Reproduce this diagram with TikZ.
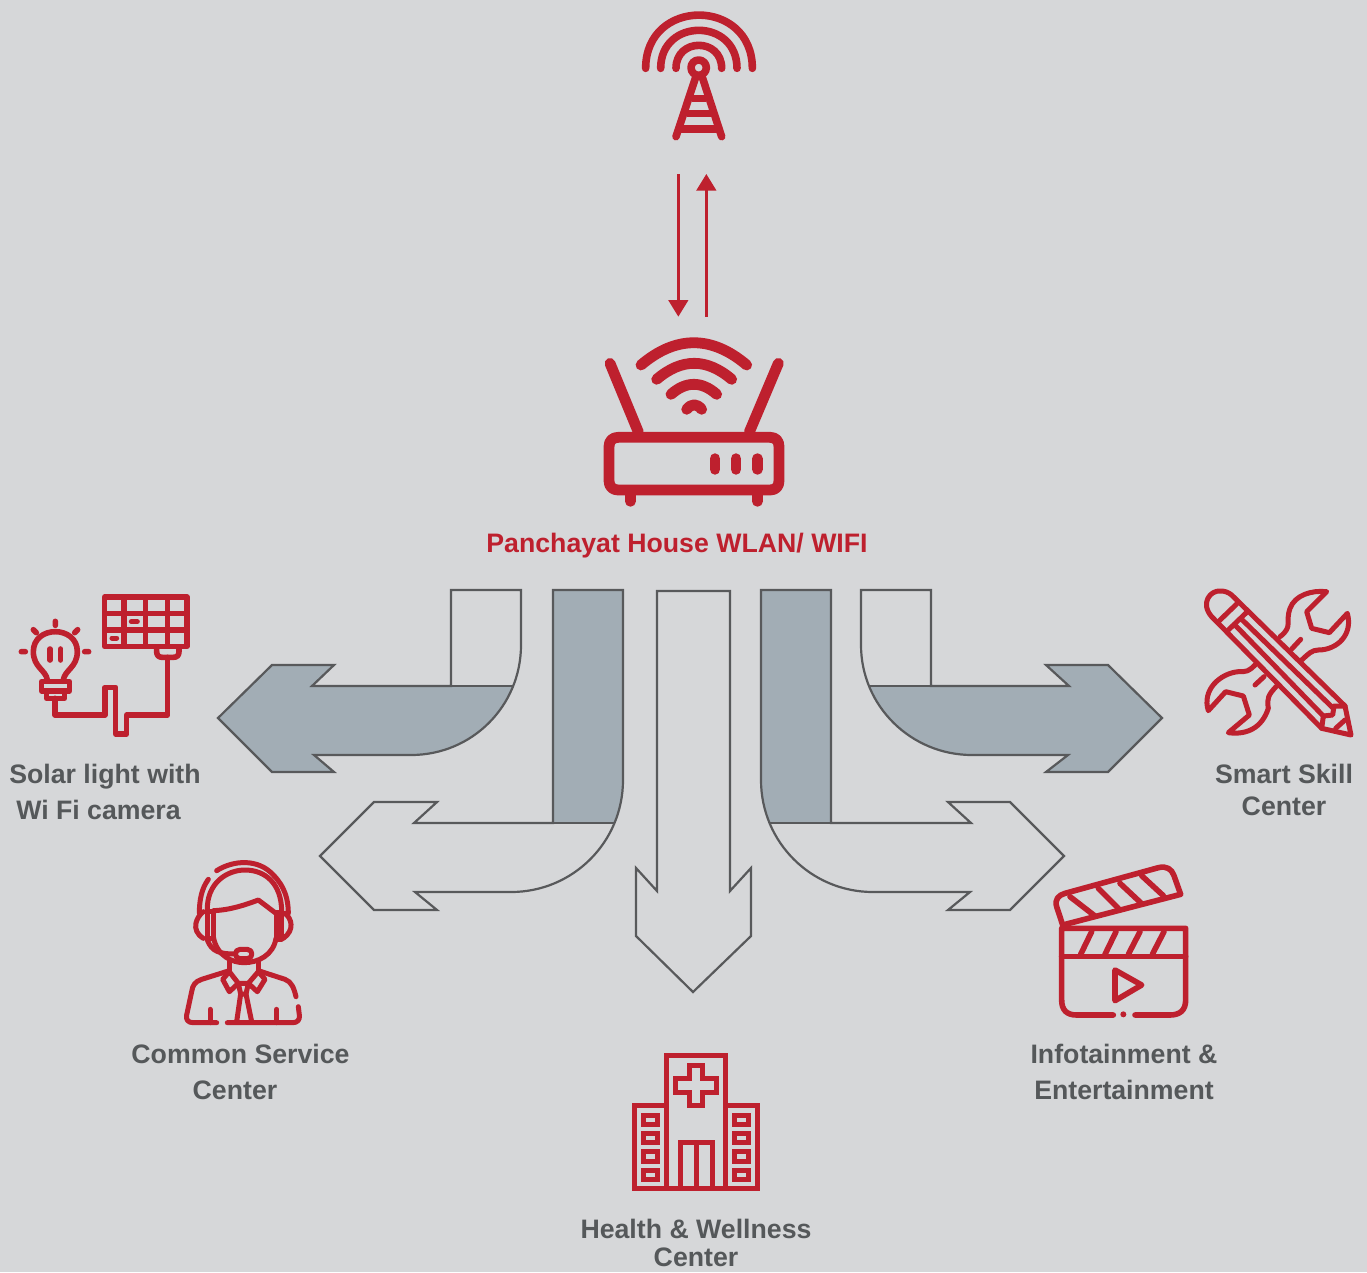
\documentclass[tikz,border=0pt]{standalone}
\usepackage{fontspec}
\setmainfont{Liberation Sans}
\usetikzlibrary{arrows.meta}
\definecolor{bgc}{HTML}{D6D7D9}
\definecolor{redc}{HTML}{BE202E}
\definecolor{greyfill}{HTML}{A2ADB5}
\definecolor{edgec}{HTML}{58595B}
\definecolor{textc}{HTML}{55585A}
\tikzset{
  icon/.style={draw=redc,line width=#1,line cap=round,line join=round},
  icon/.default=5.6pt,
  bigarrow/.style={draw=edgec,line width=2.2pt,line join=miter},
  lbl/.style={text=textc,font=\fontsize{26.7}{36}\selectfont\bfseries,align=center,inner sep=0pt},
  link/.style={draw=redc,line width=2.7pt,-{Triangle[width=19.5pt,length=16.5pt]}},
  zoomed/.style={shift={#1},scale=0.33333}
}
\begin{document}
\begin{tikzpicture}[x=1pt,y=-1pt]
\useasboundingbox (0,0) rectangle (1367,1272);
\fill[bgc] (0,0) rectangle (1367,1272);

% ---- tower and router
\begin{scope}[zoomed={(590,0)}]
 \draw[icon=7.6pt] (167,205) .. controls (167,-8) and (487,-8) .. (487,205);
 \draw[icon=7.6pt] (212,205) .. controls (212,53) and (441,53) .. (441,205);
 \draw[icon=7.6pt] (258,205) .. controls (258,113) and (395,113) .. (395,205);
 \draw[icon=7.6pt] (326,203) circle (23);
 \draw[icon=7.6pt] (316,235) -- (258,410) (338,235) -- (395,410);
 \draw[icon=7.6pt,line cap=butt] (305,295) -- (347,295) (290,341) -- (362,341) (270,387) -- (380,387);
 % router
 \draw[icon=10.8pt] (57,1340) .. controls (57,1322) and (68,1312) .. (85,1312) -- (540,1312)
   .. controls (557,1312) and (567,1322) .. (567,1340) -- (567,1442)
   .. controls (567,1460) and (557,1470) .. (540,1470) -- (85,1470)
   .. controls (68,1470) and (57,1460) .. (57,1442) -- cycle;
 \draw[icon=10.8pt] (121,1486) -- (121,1504) (502,1486) -- (502,1504);
 \draw[icon=10.8pt] (375,1376) -- (375,1408) (438,1376) -- (438,1408) (502,1376) -- (502,1408);
 \draw[icon=10.8pt] (60,1090) -- (145,1296) (565,1090) -- (478,1296);
 \draw[icon=10.8pt] (153,1095) .. controls (258,1006) and (365,1006) .. (470,1095);
 \draw[icon=10.8pt] (200,1138) .. controls (275,1074) and (350,1074) .. (425,1138);
 \draw[icon=10.8pt] (243,1183) .. controls (288,1143) and (335,1143) .. (380,1183);
 \draw[icon=10.8pt] (290,1228) .. controls (305,1210) and (320,1210) .. (335,1228);
 \coordinate (downA) at (265,522);
 \coordinate (downB) at (265,950);
 \coordinate (upA) at (349,950);
 \coordinate (upB) at (349,522);
\end{scope}
\draw[link] (downA) -- (downB);
\draw[link] (upA) -- (upB);

\node[lbl,text=redc] (wifi) at (677,546) {Panchayat House WLAN/ WIFI};

% ---- big arrows
% solar
\def\solarpath{(451,590) -- (521,590) -- (521,645) .. controls (521,706) and (472,755) .. (411,755) -- (314,755) -- (334,772) -- (272,772) -- (218,718) -- (272,665) -- (334,665) -- (312,686) -- (451,686) -- cycle}
\fill[greyfill] \solarpath;
\fill[bgc] (451,585) rectangle (530,686);
\draw[bigarrow] \solarpath;
\draw[bigarrow] (451,686) -- (513,686);
% common service
\def\commonpath{(553,590) -- (623,590) -- (623,780) .. controls (623,842) and (573,892) .. (511,892) -- (415,892) -- (437,910) -- (374,910) -- (320,856) -- (374,802) -- (437,802) -- (414,823) -- (553,823) -- cycle}
\begin{scope}\clip (553,0) rectangle (700,823); \fill[greyfill] \commonpath; \end{scope}
\draw[bigarrow] \commonpath;
\draw[bigarrow] (553,823) -- (614,823);
% health
\draw[bigarrow] (657,591) -- (730,591) -- (730,891) -- (751,868) -- (751,936) -- (693,992) -- (636,936) -- (636,868) -- (657,891) -- cycle;
% skill
\def\skillpath{(861,590) -- (931,590) -- (931,686) -- (1069,686) -- (1046,665) -- (1108,665) -- (1162,718) -- (1108,772) -- (1046,772) -- (1068,755) -- (972,755) .. controls (911,755) and (861,706) .. (861,645) -- cycle}
\fill[greyfill] \skillpath;
\fill[bgc] (852,585) rectangle (931,686);
\fill[bgc] (931,640) rectangle (1040,686);
\draw[bigarrow] \skillpath;
\draw[bigarrow] (870,686) -- (931,686);
% infotainment
\def\infopath{(761,590) -- (831,590) -- (831,823) -- (971,823) -- (948,802) -- (1010,802) -- (1064,856) -- (1010,910) -- (948,910) -- (970,892) -- (873,892) .. controls (811,892) and (761,842) .. (761,780) -- cycle}
\begin{scope}\clip (700,0) rectangle (831,823); \fill[greyfill] \infopath; \end{scope}
\draw[bigarrow] \infopath;
\draw[bigarrow] (770,823) -- (831,823);

% ---- solar icon
\begin{scope}[zoomed={(0,580)}]
 \draw[icon] (314,51) rectangle (561,199);
 \draw[icon=5.6pt,line cap=butt] (372,51) -- (372,199) (437,51) -- (437,199) (503,51) -- (503,199) (314,100) -- (561,100) (314,150) -- (561,150);
 \draw[icon=5pt] (394,125) -- (412,125) (336,174) -- (350,174);
 \draw[icon] (470,207) -- (470,215) .. controls (470,226) and (476,232) .. (487,232) -- (520,232) .. controls (531,232) and (537,226) .. (537,215) -- (537,207);
 \draw[icon] (503,232) -- (503,405) -- (380,405) -- (380,462) -- (347,462) -- (347,322) -- (315,322) -- (315,405) -- (165,405) -- (165,355);
 \draw[icon] (142,300) .. controls (138,270) and (100,262) .. (100,215) .. controls (100,135) and (232,135) .. (232,215) .. controls (232,262) and (194,270) .. (190,300);
 \draw[icon] (125,305) rectangle (208,333);
 \draw[icon] (140,335) rectangle (193,355);
 \draw[icon] (150,207) -- (150,240) (182,207) -- (182,240);
 \draw[icon] (64,215) -- (76,215) (254,215) -- (266,215) (166,124) -- (166,136) (100,149) -- (109,158) (233,149) -- (224,158);
\end{scope}

% ---- tools icon
\begin{scope}[zoomed={(1190,580)}]
 \tikzset{tool/.style={icon=5pt}}
 \draw[tool] (395,445) -- (65,110) .. controls (30,70) and (60,30) .. (92,33) .. controls (105,33) and (115,37) .. (125,45) -- (465,378) -- (483,465) -- cycle;
 \draw[tool] (85,125) -- (140,72) (115,150) -- (170,97);
 \draw[tool] (133,133) -- (400,408) (152,115) -- (430,385);
 \draw[tool] (395,445) -- (400,408) -- (428,405) -- (432,378) -- (465,378);
 \draw[tool] (437,445) -- (465,420);
 \draw[tool] (270,170) .. controls (310,140) and (285,125) .. (300,85) .. controls (315,45) and (365,30) .. (410,35) -- (350,95) -- (365,145) -- (418,158) -- (472,100) .. controls (490,165) and (440,210) .. (385,210) .. controls (365,210) and (355,222) .. (335,240);
 \draw[tool] (305,207) -- (332,178);
 \draw[tool] (195,255) .. controls (175,275) and (170,275) .. (145,275) .. controls (90,280) and (35,330) .. (55,392) -- (107,335) -- (160,348) -- (178,405) -- (115,458) .. controls (170,465) and (215,445) .. (235,385) .. controls (230,355) and (235,345) .. (258,320);
 \draw[tool] (195,315) -- (222,290);
\end{scope}

% ---- agent icon
\begin{scope}[zoomed={(170,850)}]
 \tikzset{agent/.style={icon=5pt}}
 \draw[agent] (140,62) .. controls (190,30) and (265,25) .. (310,75) .. controls (345,110) and (355,150) .. (355,190);
 \draw[agent] (115,88) .. controls (95,115) and (88,150) .. (88,190);
 \draw[agent] (112,180) .. controls (110,100) and (170,60) .. (225,60) .. controls (285,60) and (335,100) .. (335,185);
 \draw[agent] (112,185) -- (130,185) -- (130,265) -- (112,265) -- cycle;
 \draw[agent] (318,188) -- (335,188) -- (335,268) -- (318,268) -- cycle;
 \draw[agent] (100,185) .. controls (80,200) and (60,240) .. (100,265);
 \draw[agent] (345,190) .. controls (365,205) and (375,240) .. (340,265);
 \draw[agent] (130,182) .. controls (180,180) and (225,165) .. (265,150) -- (318,190);
 \draw[agent] (130,260) .. controls (140,320) and (190,338) .. (222,338) .. controls (265,338) and (310,315) .. (318,265);
 \draw[agent] (112,270) .. controls (125,305) and (150,312) .. (195,312);
 \draw[agent] (210,298) -- (232,298) .. controls (250,298) and (250,326) .. (232,326) -- (210,326) .. controls (192,326) and (192,298) .. (210,298) -- cycle;
 \draw[agent] (178,335) -- (178,362) (265,335) -- (265,362);
 \draw[agent] (178,362) -- (95,388) .. controls (75,395) and (68,405) .. (65,425) -- (50,495) .. controls (47,510) and (55,518) .. (70,518) -- (140,518);
 \draw[agent] (265,362) -- (345,388) .. controls (365,395) and (372,415) .. (378,440);
 \draw[agent] (385,470) -- (388,495) .. controls (390,510) and (382,518) .. (368,518) -- (172,518);
 \draw[agent] (178,365) -- (158,388) -- (178,425) -- (205,400) -- cycle;
 \draw[agent] (265,365) -- (285,388) -- (262,425) -- (235,400) -- cycle;
 \draw[agent] (205,400) -- (235,400) -- (228,432) -- (212,432) -- cycle;
 \draw[agent] (212,432) -- (200,515) (228,432) -- (245,515);
 \draw[agent] (120,478) -- (120,518) (320,478) -- (320,518);
\end{scope}

% ---- clapper icon
\begin{scope}[zoomed={(1040,855)}]
 \draw[icon] (68,210) -- (50,155) .. controls (43,135) and (55,120) .. (75,115) -- (355,38) .. controls (380,32) and (395,42) .. (402,62) -- (422,118) -- cycle;
 \draw[icon] (90,125) -- (165,183) (175,100) -- (235,160) (240,85) -- (302,143) (305,62) -- (370,122);
 \draw[icon] (220,480) -- (110,480) .. controls (80,480) and (65,465) .. (65,435) -- (65,220) -- (437,220) -- (437,435) .. controls (437,465) and (420,480) .. (390,480) -- (285,480);
 \fill[redc] (250,478) circle (9);
 \draw[icon] (65,305) -- (437,305);
 \draw[icon] (155,230) -- (122,298) (228,230) -- (195,298) (300,230) -- (265,298) (372,230) -- (337,298);
 \draw[icon] (225,345) -- (225,437) -- (305,390) -- cycle;
\end{scope}

% ---- hospital icon
\begin{scope}[zoomed={(620,1045)}]
 \tikzset{hosp/.style={draw=redc,line width=5pt,line join=miter}}
 \draw[hosp] (42,430) -- (42,182) -- (140,182) -- (140,32) -- (316,32) -- (316,182) -- (413,182) -- (413,430) -- cycle;
 \draw[hosp] (140,182) -- (140,430) (316,182) -- (316,430);
 \draw[hosp] (207,60) -- (248,60) -- (248,100) -- (290,100) -- (290,143) -- (248,143) -- (248,182) -- (207,182) -- (207,143) -- (166,143) -- (166,100) -- (207,100) -- cycle;
 \draw[hosp] (180,430) -- (180,292) -- (276,292) -- (276,430) (228,292) -- (228,430);
 \foreach \ya/\yb in {210/238,265/293,320/348,375/403}{
   \draw[hosp] (70,\ya) rectangle (112,\yb);
   \draw[hosp] (344,\ya) rectangle (386,\yb);
 }
\end{scope}

% ---- labels
\node[lbl] (solar) at (105,792) {Solar light with\\Wi Fi camera\hspace*{13pt}};
\node[lbl,font=\fontsize{26.7}{32}\selectfont\bfseries] (skill) at (1284,790) {Smart Skill\\Center};
\node[lbl] (common) at (240.5,1072) {Common Service\\Center\hspace*{11pt}};
\node[lbl] (info) at (1124,1072) {Infotainment \&\\Entertainment};
\node[lbl,font=\fontsize{26.7}{28}\selectfont\bfseries] (health) at (696,1243) {Health \& Wellness\\Center};
\end{tikzpicture}
\end{document}
